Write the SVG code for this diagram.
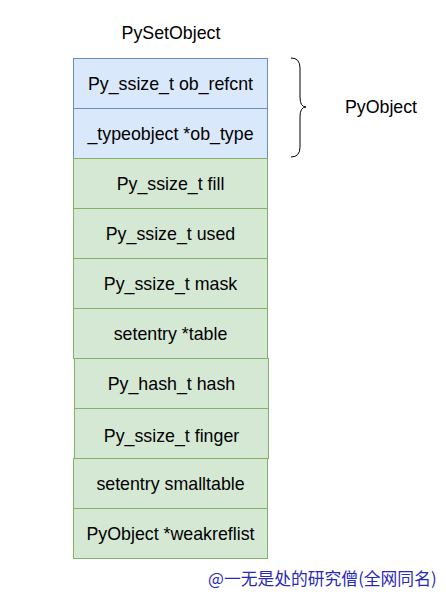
<svg xmlns="http://www.w3.org/2000/svg" width="446" height="599" viewBox="0 0 446 599">
<style>
text{font-family:"Liberation Sans",Arial,sans-serif;font-size:17.8px;fill:#000;text-anchor:middle;dominant-baseline:central}
.b rect{fill:#dae8fc;stroke:#6c8ebf;stroke-width:1}
.g rect{fill:#d5e8d4;stroke:#82b366;stroke-width:1}
.wm{font-family:"Noto Sans CJK SC",sans-serif;font-size:16.8px;fill:#2a2ab8;text-anchor:start}
</style>
<rect width="446" height="599" fill="#fff"/>
<text x="171" y="33">PySetObject</text>
<g id="ob_refcnt" class="b"><rect x="73.5" y="58.5" width="194" height="50"/><text x="170.5" y="83.5">Py_ssize_t ob_refcnt</text></g>
<g id="ob_type" class="b"><rect x="73.5" y="108.5" width="194" height="50"/><text x="170.5" y="133.5">_typeobject *ob_type</text></g>
<g id="fill" class="g"><rect x="73.5" y="158.5" width="194" height="50"/><text x="170.5" y="183.5">Py_ssize_t fill</text></g>
<g id="used" class="g"><rect x="73.5" y="208.5" width="194" height="50"/><text x="170.5" y="233.5">Py_ssize_t used</text></g>
<g id="mask" class="g"><rect x="73.5" y="258.5" width="194" height="50"/><text x="170.5" y="283.5">Py_ssize_t mask</text></g>
<g id="table" class="g"><rect x="73.5" y="308.5" width="194" height="50"/><text x="170.5" y="333.5">setentry *table</text></g>
<g id="hash" class="g"><rect x="74.5" y="358.5" width="194" height="50"/><text x="171.5" y="383.5">Py_hash_t hash</text></g>
<g id="finger" class="g"><rect x="74.5" y="408.5" width="194" height="50"/><text x="171.5" y="435.5">Py_ssize_t finger</text></g>
<g id="smalltable" class="g"><rect x="73.5" y="458.5" width="194" height="50"/><text x="170.5" y="483.5">setentry smalltable</text></g>
<g id="weakreflist" class="g"><rect x="73.5" y="508.5" width="194" height="50"/><text x="170.5" y="533.5">PyObject *weakreflist</text></g>
<g id="connectors">
<path d="M291,58 Q300,58 300,68 L300,97 Q300,107 306,107 Q300,107 300,117 L300,147 Q300,157 291,157" fill="none" stroke="#000" stroke-width="1"/>
</g>
<g id="pyobject"><text x="381" y="107">PyObject</text></g>
<text class="wm" x="208" y="578">@一无是处的研究僧(全网同名)</text>
</svg>
